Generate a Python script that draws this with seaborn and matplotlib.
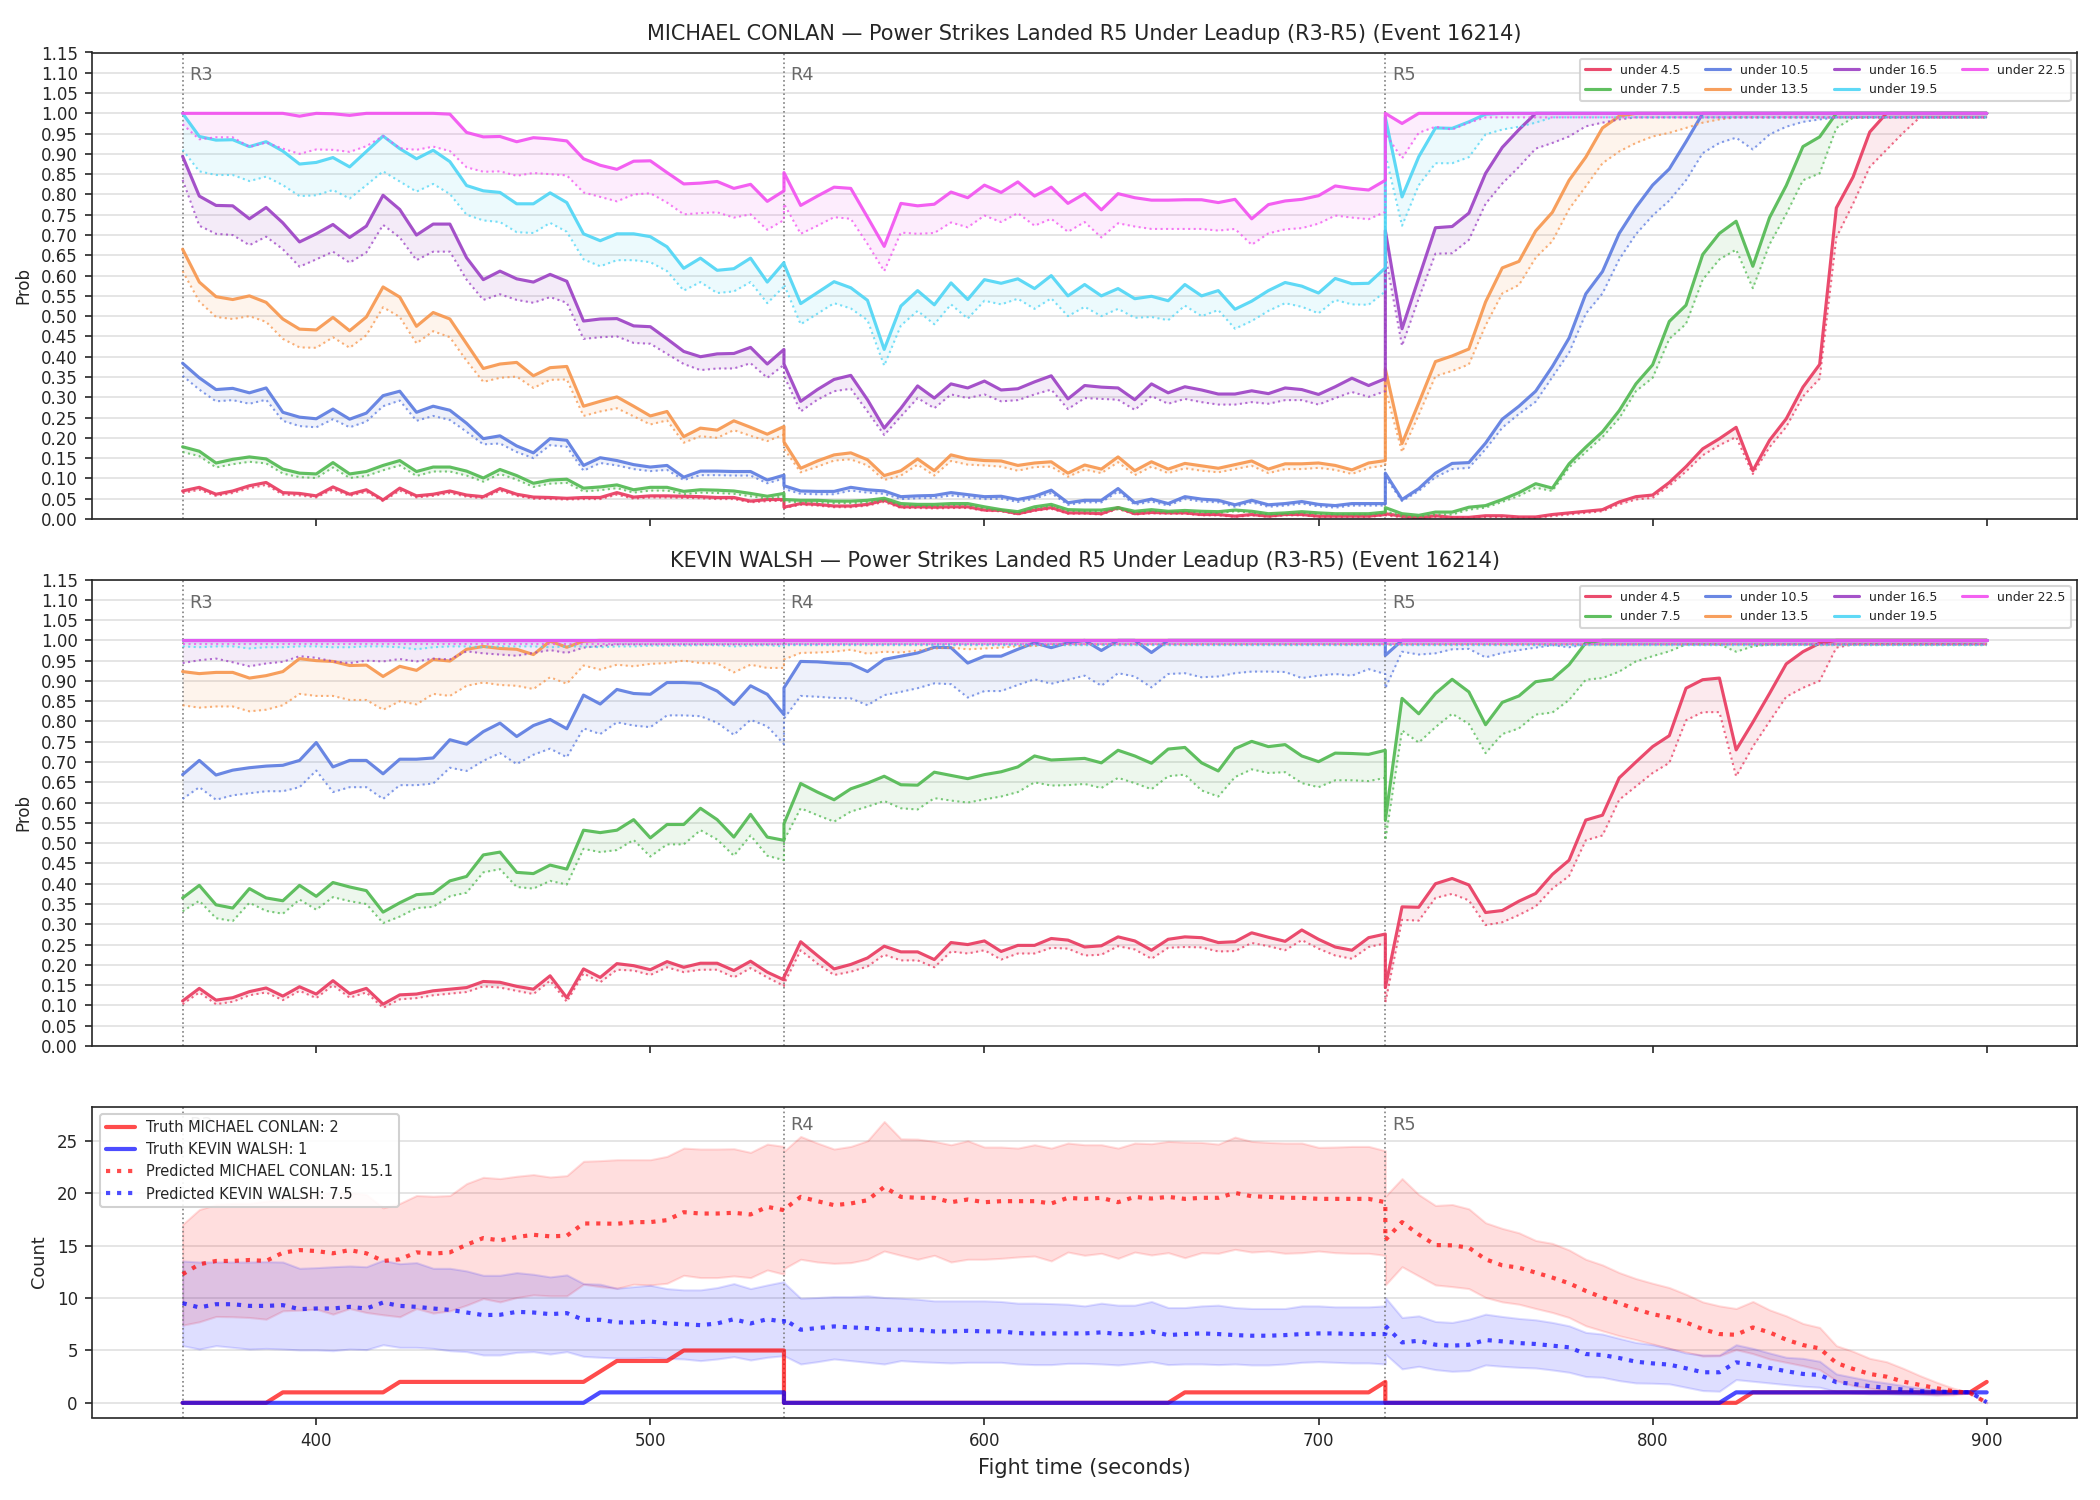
import numpy as np
import matplotlib
matplotlib.use("Agg")
import matplotlib.pyplot as plt
import seaborn as sns

# time grid, 5 s steps; each round restarts at its boundary (540 / 720 appear twice)
t_r3 = np.arange(360, 545, 5)
t_r4 = np.arange(540, 725, 5)
t_r5 = np.arange(720, 905, 5)
t = np.concatenate([t_r3, t_r4, t_r5])

lines = ['under 4.5', 'under 7.5', 'under 10.5', 'under 13.5', 'under 16.5', 'under 19.5', 'under 22.5']
colors = ['#e8375d', '#4fb84f', '#5a7ae0', '#f7954b', '#9b3fc4', '#4dd5f5', '#f24ff0']
rounds = [360, 540, 720]
round_names = ['R3', 'R4', 'R5']

# ---- MICHAEL CONLAN: probability (solid) and lower line (dotted) ----
c_u4 = [.069, .078, .061, .069, .082, .090, .065, .063, .057, .079, .061, .072, .047, .076, .057, .061, .069, .059, .055, .075, .061, .054, .053, .051, .053, .053, .065, .054, .057, .057, .056, .055, .053, .053, .044, .048, .048,
        .029, .038, .036, .032, .032, .036, .046, .030, .030, .029, .030, .030, .022, .021, .013, .022, .028, .015, .015, .013, .028, .013, .016, .015, .015, .011, .011, .007, .011, .007, .011, .011, .007, .007, .007, .007, .011,
        .013, .007, .003, .008, .004, .004, .008, .008, .005, .005, .011, .015, .019, .023, .042, .055, .059, .090, .129, .173, .198, .226, .119, .194, .247, .325, .381, .767, .843, .954, 1, 1, 1, 1, 1, 1, 1]
c_u4_lo = [.064, .072, .057, .064, .076, .084, .060, .058, .053, .073, .057, .067, .044, .070, .053, .057, .064, .055, .051, .070, .057, .050, .049, .048, .049, .049, .060, .050, .053, .053, .052, .051, .049, .049, .041, .044, .045,
           .027, .035, .033, .029, .029, .033, .042, .027, .027, .026, .027, .027, .020, .019, .011, .020, .025, .013, .013, .011, .025, .011, .014, .013, .013, .009, .009, .005, .009, .005, .009, .009, .005, .005, .005, .005, .009,
           .009, .004, .001, .005, .003, .003, .005, .005, .003, .003, .007, .011, .015, .019, .036, .048, .052, .082, .117, .157, .182, .202, .111, .177, .227, .302, .346, .694, .777, .868, .910, .952, .99, .99, .99, .99, .99]
c_u7 = [.178, .167, .138, .147, .153, .148, .123, .113, .111, .139, .111, .117, .132, .144, .117, .128, .128, .118, .101, .122, .107, .088, .096, .098, .076, .079, .084, .072, .078, .078, .068, .072, .071, .069, .063, .056, .063,
        .048, .046, .046, .044, .044, .046, .051, .038, .036, .036, .038, .038, .030, .023, .018, .030, .036, .023, .022, .022, .028, .019, .023, .019, .021, .019, .018, .022, .019, .013, .015, .018, .015, .013, .013, .013, .017,
        .028, .013, .009, .017, .017, .029, .033, .048, .065, .087, .076, .136, .177, .215, .267, .333, .380, .487, .527, .652, .704, .734, .623, .743, .822, .918, .942, 1, 1, 1, 1, 1, 1, 1, 1, 1, 1]
c_u7_lo = [.165, .155, .127, .135, .141, .137, .112, .103, .101, .127, .101, .106, .120, .132, .106, .117, .117, .107, .092, .111, .097, .079, .087, .089, .068, .071, .076, .065, .070, .070, .061, .065, .064, .062, .056, .050, .056,
           .043, .041, .041, .039, .039, .041, .046, .034, .032, .032, .034, .034, .026, .020, .015, .026, .032, .020, .019, .019, .024, .016, .020, .016, .018, .016, .015, .019, .016, .011, .012, .015, .012, .011, .011, .011, .014,
           .019, .007, .005, .011, .011, .023, .028, .042, .057, .077, .069, .127, .165, .202, .248, .315, .348, .444, .481, .590, .640, .664, .569, .677, .752, .835, .852, .964, .989, .99, .99, .99, .99, .99, .99, .99, .99]
c_u10 = [.384, .348, .319, .322, .311, .323, .263, .251, .247, .271, .246, .261, .304, .315, .263, .278, .268, .236, .198, .205, .180, .163, .198, .194, .132, .151, .144, .134, .128, .132, .103, .118, .118, .117, .117, .096, .108,
         .082, .069, .068, .068, .078, .072, .069, .055, .057, .058, .065, .060, .055, .056, .048, .056, .071, .040, .046, .046, .075, .040, .049, .038, .055, .049, .046, .035, .046, .035, .038, .043, .036, .033, .038, .038, .038,
         .113, .048, .075, .113, .137, .139, .187, .246, .278, .315, .376, .446, .555, .610, .704, .768, .823, .863, .930, 1, 1, 1, 1, 1, 1, 1, 1, 1, 1, 1, 1, 1, 1, 1, 1, 1, 1]
c_u10_lo = [.353, .319, .290, .293, .284, .294, .242, .229, .226, .246, .226, .240, .278, .292, .242, .254, .244, .215, .184, .186, .165, .150, .182, .178, .119, .138, .132, .123, .118, .121, .096, .108, .108, .107, .107, .088, .100,
            .074, .062, .061, .061, .070, .065, .062, .049, .051, .052, .058, .054, .049, .050, .042, .050, .064, .035, .041, .041, .068, .035, .043, .033, .049, .043, .041, .030, .041, .030, .033, .038, .031, .028, .033, .033, .033,
            .103, .044, .069, .103, .123, .126, .172, .225, .259, .289, .350, .410, .506, .556, .640, .702, .748, .785, .835, .902, .927, .940, .911, .948, .967, .979, .985, .99, .99, .99, .99, .99, .99, .99, .99, .99, .99]
c_u13 = [.665, .584, .548, .541, .550, .534, .493, .468, .466, .497, .464, .498, .572, .547, .475, .509, .493, .432, .371, .382, .386, .353, .373, .376, .278, .290, .301, .278, .254, .265, .203, .224, .219, .242, .226, .209, .228,
         .190, .125, .143, .158, .163, .146, .107, .119, .148, .119, .158, .148, .144, .143, .132, .138, .141, .113, .133, .123, .153, .119, .141, .123, .137, .131, .125, .134, .143, .123, .136, .136, .138, .132, .121, .138, .144,
         .370, .186, .286, .388, .402, .419, .535, .619, .635, .710, .756, .835, .892, .964, .993, 1, 1, 1, 1, 1, 1, 1, 1, 1, 1, 1, 1, 1, 1, 1, 1, 1, 1, 1, 1, 1, 1]
c_u13_lo = [.611, .536, .498, .493, .500, .486, .444, .423, .422, .448, .422, .453, .522, .498, .433, .463, .448, .390, .338, .348, .351, .323, .343, .344, .254, .265, .273, .253, .233, .243, .188, .204, .200, .219, .205, .192, .208,
            .173, .115, .129, .144, .147, .132, .096, .107, .134, .107, .143, .134, .132, .129, .119, .128, .129, .104, .122, .113, .140, .108, .129, .113, .125, .119, .115, .123, .131, .113, .123, .123, .126, .121, .111, .126, .132,
            .320, .165, .257, .352, .365, .381, .477, .556, .577, .644, .685, .764, .820, .877, .906, .927, .943, .952, .964, .977, .985, .99, .99, .99, .99, .99, .99, .99, .99, .99, .99, .99, .99, .99, .99, .99, .99]
c_u16 = [.894, .796, .773, .772, .740, .768, .730, .683, .703, .726, .694, .722, .798, .763, .700, .727, .727, .644, .590, .611, .592, .584, .603, .586, .488, .493, .494, .476, .474, .444, .413, .400, .407, .408, .423, .382, .418,
         .382, .290, .319, .344, .354, .294, .224, .273, .328, .298, .333, .323, .340, .318, .321, .338, .353, .296, .329, .325, .323, .294, .333, .311, .326, .318, .308, .308, .316, .309, .323, .319, .307, .326, .347, .329, .346,
         .711, .469, .594, .718, .721, .754, .852, .916, .960, 1, 1, 1, 1, 1, 1, 1, 1, 1, 1, 1, 1, 1, 1, 1, 1, 1, 1, 1, 1, 1, 1, 1, 1, 1, 1, 1, 1]
c_u16_lo = [.836, .723, .703, .700, .675, .696, .665, .622, .640, .659, .632, .657, .725, .694, .638, .659, .659, .590, .540, .554, .540, .533, .547, .533, .444, .448, .450, .434, .432, .407, .382, .367, .371, .371, .384, .348, .380,
            .353, .265, .294, .315, .321, .265, .207, .253, .298, .273, .307, .298, .307, .290, .293, .307, .319, .271, .298, .296, .294, .269, .303, .284, .296, .288, .282, .282, .288, .284, .293, .293, .282, .298, .313, .301, .315,
            .650, .427, .544, .654, .655, .688, .777, .827, .868, .913, .927, .943, .968, .977, .985, .99, .99, .99, .99, .99, .99, .99, .99, .99, .99, .99, .99, .99, .99, .99, .99, .99, .99, .99, .99, .99, .99]
c_u19 = [1, .943, .934, .935, .918, .930, .907, .875, .879, .891, .868, .906, .944, .913, .888, .909, .881, .822, .809, .805, .777, .777, .804, .780, .703, .686, .703, .703, .696, .671, .618, .643, .613, .617, .643, .584, .632,
         .629, .531, .558, .585, .570, .539, .418, .525, .563, .528, .582, .541, .590, .581, .592, .568, .600, .550, .578, .550, .568, .543, .549, .538, .578, .550, .563, .517, .537, .563, .583, .574, .557, .593, .580, .581, .619,
         .99, .794, .893, .964, .963, .979, .998, 1, 1, 1, 1, 1, 1, 1, 1, 1, 1, 1, 1, 1, 1, 1, 1, 1, 1, 1, 1, 1, 1, 1, 1, 1, 1, 1, 1, 1, 1]
c_u19_lo = [.910, .857, .848, .848, .833, .844, .823, .796, .798, .811, .790, .823, .857, .832, .807, .826, .801, .750, .736, .732, .707, .705, .730, .708, .640, .623, .638, .638, .633, .611, .563, .584, .557, .561, .584, .532, .573,
            .578, .480, .506, .532, .519, .490, .378, .477, .513, .480, .529, .494, .538, .529, .543, .518, .544, .500, .523, .500, .518, .496, .498, .490, .526, .500, .515, .469, .488, .513, .532, .523, .507, .540, .529, .528, .561,
            .900, .723, .823, .877, .877, .892, .948, .960, .967, .977, .99, .99, .99, .99, .99, .99, .99, .99, .99, .99, .99, .99, .99, .99, .99, .99, .99, .99, .99, .99, .99, .99, .99, .99, .99, .99, .99]
c_u22 = [1, 1, 1, 1, 1, 1, 1, .993, 1, .999, .995, 1, 1, 1, 1, 1, .998, .953, .942, .943, .930, .940, .937, .932, .888, .872, .862, .882, .883, .854, .826, .828, .832, .815, .825, .783, .809,
         .854, .773, .796, .818, .815, .744, .672, .778, .772, .776, .806, .792, .823, .805, .831, .796, .818, .778, .802, .762, .802, .792, .786, .786, .787, .787, .780, .788, .740, .775, .784, .788, .797, .821, .815, .811, .835,
         1, .975, 1, 1, 1, 1, 1, 1, 1, 1, 1, 1, 1, 1, 1, 1, 1, 1, 1, 1, 1, 1, 1, 1, 1, 1, 1, 1, 1, 1, 1, 1, 1, 1, 1, 1, 1]
c_u22_lo = [.973, .936, .941, .941, .917, .928, .913, .900, .911, .910, .905, .919, .944, .914, .910, .918, .907, .867, .856, .857, .846, .853, .850, .847, .805, .794, .783, .800, .803, .780, .751, .754, .756, .743, .751, .713, .737,
            .777, .703, .723, .744, .740, .678, .611, .706, .703, .705, .731, .719, .748, .732, .754, .723, .740, .708, .732, .694, .729, .721, .715, .715, .715, .715, .711, .715, .676, .704, .714, .717, .728, .748, .743, .739, .757,
            .950, .889, .952, .967, .960, .977, .99, .99, .99, .99, .99, .99, .99, .99, .99, .99, .99, .99, .99, .99, .99, .99, .99, .99, .99, .99, .99, .99, .99, .99, .99, .99, .99, .99, .99, .99, .99]

# ---- KEVIN WALSH (rows of ten, rounds of 37) ----
w_u4 = [.111, .142, .113, .119, .134, .143, .123, .146, .128, .161,
        .129, .142, .103, .126, .128, .136, .140, .144, .159, .157,
        .147, .140, .173, .119, .190, .169, .203, .198, .188, .208,
        .194, .204, .204, .186, .209, .182, .163,
        .170, .257, .223, .190, .201, .217, .246, .232, .232, .213,
        .255, .250, .259, .233, .248, .248, .265, .261, .244, .247,
        .269, .259, .236, .263, .269, .267, .255, .257, .279, .268,
        .258, .286, .263, .244, .236, .267, .276,
        .144, .343, .342, .400, .413, .397, .329, .334, .357, .376,
        .423, .458, .557, .569, .661, .700, .738, .765, .882, .903,
        .907, .730, .798, .869, .942, .972, .993, 1, 1, 1,
        1, 1, 1, 1, 1, 1, 1]
w_u4_lo = [.103, .132, .103, .109, .125, .132, .113, .136, .118, .150,
           .119, .132, .094, .115, .118, .125, .129, .133, .147, .144,
           .136, .128, .161, .109, .179, .157, .188, .186, .175, .194,
           .182, .188, .188, .169, .192, .169, .148,
           .153, .236, .203, .175, .183, .196, .225, .211, .211, .194,
           .233, .228, .236, .213, .228, .228, .242, .240, .223, .225,
           .246, .238, .215, .242, .244, .243, .233, .234, .254, .246,
           .236, .261, .240, .223, .215, .244, .253,
           .107, .311, .309, .365, .375, .359, .298, .305, .323, .344,
           .388, .419, .507, .519, .607, .640, .673, .698, .803, .823,
           .823, .665, .738, .800, .861, .883, .900, .982, .99, .99,
           .99, .99, .99, .99, .99, .99, .99]
w_u7 = [.365, .396, .348, .340, .388, .365, .358, .396, .369, .403,
        .392, .383, .330, .353, .373, .376, .407, .418, .471, .478,
        .428, .425, .446, .436, .532, .526, .532, .558, .513, .546,
        .546, .586, .558, .515, .571, .515, .507,
        .548, .647, .626, .607, .634, .648, .665, .644, .643, .675,
        .667, .659, .669, .676, .688, .715, .705, .707, .709, .698,
        .729, .715, .697, .732, .736, .698, .678, .733, .751, .738,
        .743, .715, .701, .722, .721, .719, .729,
        .557, .857, .819, .869, .904, .873, .792, .847, .863, .898,
        .904, .940, .994, 1, 1, 1, 1, 1, 1, 1,
        1, 1, 1, 1, 1, 1, 1, 1, 1, 1,
        1, 1, 1, 1, 1, 1, 1]
w_u7_lo = [.332, .358, .315, .308, .353, .333, .326, .361, .336, .367,
           .357, .350, .303, .319, .340, .343, .369, .378, .428, .436,
           .392, .388, .407, .398, .486, .478, .483, .508, .467, .497,
           .497, .532, .509, .469, .519, .469, .458,
           .507, .586, .569, .553, .578, .590, .604, .586, .583, .611,
           .605, .600, .608, .615, .626, .650, .642, .643, .646, .636,
           .661, .648, .633, .665, .669, .630, .615, .663, .682, .673,
           .675, .648, .638, .655, .655, .653, .661,
           .507, .778, .748, .786, .819, .794, .722, .769, .783, .817,
           .822, .853, .903, .907, .923, .948, .961, .973, .990, .990,
           .990, .972, .985, .99, .99, .99, .99, .99, .99, .99,
           .99, .99, .99, .99, .99, .99, .99]
w_u10 = [.669, .704, .668, .680, .686, .690, .692, .704, .748, .688,
         .704, .704, .671, .707, .707, .710, .755, .744, .775, .796,
         .763, .790, .805, .782, .865, .843, .879, .869, .867, .896,
         .896, .894, .875, .842, .888, .867, .817,
         .883, .948, .947, .944, .942, .923, .953, .961, .969, .983,
         .982, .944, .961, .961, .978, .994, .982, .994, 1, .975,
         1, 1, .970, 1, 1, 1, 1, 1, 1, 1,
         1, 1, 1, 1, 1, 1, 1,
         .963, 1, 1, 1, 1, 1, 1, 1, 1, 1,
         1, 1, 1, 1, 1, 1, 1, 1, 1, 1,
         1, 1, 1, 1, 1, 1, 1, 1, 1, 1,
         1, 1, 1, 1, 1, 1, 1]
w_u10_lo = [.609, .638, .607, .618, .623, .628, .628, .638, .679, .626,
            .638, .638, .609, .643, .643, .647, .686, .678, .703, .722,
            .695, .718, .733, .712, .783, .769, .798, .790, .786, .815,
            .815, .813, .797, .767, .804, .788, .744,
            .807, .863, .861, .858, .857, .840, .865, .873, .882, .894,
            .892, .859, .875, .875, .890, .904, .893, .903, .913, .888,
            .919, .911, .884, .917, .919, .909, .911, .919, .923, .923,
            .922, .907, .913, .917, .913, .929, .917,
            .882, .972, .965, .968, .978, .979, .958, .969, .976, .982,
            .988, .983, .99, .99, .99, .99, .99, .99, .99, .99,
            .99, .99, .99, .99, .99, .99, .99, .99, .99, .99,
            .99, .99, .99, .99, .99, .99, .99]
w_u13 = [.923, .918, .921, .921, .907, .913, .923, .955, .950, .948,
         .938, .939, .911, .936, .926, .953, .949, .978, .985, .980,
         .978, .965, .998, .983, .998, 1, 1, 1, 1, 1,
         1, 1, 1, 1, 1, 1, 1,
         1, 1, 1, 1, 1, 1, 1, 1, 1, 1,
         1, 1, 1, 1, 1, 1, 1, 1, 1, 1,
         1, 1, 1, 1, 1, 1, 1, 1, 1, 1,
         1, 1, 1, 1, 1, 1, 1,
         1, 1, 1, 1, 1, 1, 1, 1, 1, 1,
         1, 1, 1, 1, 1, 1, 1, 1, 1, 1,
         1, 1, 1, 1, 1, 1, 1, 1, 1, 1,
         1, 1, 1, 1, 1, 1, 1]
w_u13_lo = [.840, .834, .837, .837, .825, .829, .840, .868, .863, .863,
            .853, .853, .829, .850, .842, .868, .863, .888, .896, .890,
            .888, .880, .909, .893, .938, .928, .940, .936, .942, .944,
            .950, .944, .943, .921, .940, .932, .932,
            .953, .969, .970, .972, .977, .967, .972, .970, .975, .980,
            .982, .978, .980, .982, .986, .986, .99, .99, .99, .99,
            .99, .99, .99, .99, .99, .99, .99, .99, .99, .99,
            .99, .99, .99, .99, .99, .99, .99,
            .99, .99, .99, .99, .99, .99, .99, .99, .99, .99,
            .99, .99, .99, .99, .99, .99, .99, .99, .99, .99,
            .99, .99, .99, .99, .99, .99, .99, .99, .99, .99,
            .99, .99, .99, .99, .99, .99, .99]
w_u16 = [1, 1, 1, 1, 1, 1, 1, 1, 1, 1,
         1, 1, 1, 1, 1, 1, 1, 1, 1, 1,
         1, 1, 1, 1, 1, 1, 1, 1, 1, 1,
         1, 1, 1, 1, 1, 1, 1,
         1, 1, 1, 1, 1, 1, 1, 1, 1, 1,
         1, 1, 1, 1, 1, 1, 1, 1, 1, 1,
         1, 1, 1, 1, 1, 1, 1, 1, 1, 1,
         1, 1, 1, 1, 1, 1, 1,
         1, 1, 1, 1, 1, 1, 1, 1, 1, 1,
         1, 1, 1, 1, 1, 1, 1, 1, 1, 1,
         1, 1, 1, 1, 1, 1, 1, 1, 1, 1,
         1, 1, 1, 1, 1, 1, 1]
w_u16_lo = [.944, .951, .955, .946, .936, .943, .947, .961, .957, .948,
            .944, .950, .948, .954, .948, .955, .953, .973, .968, .965,
            .962, .969, .976, .969, .982, .986, .99, .99, .99, .99,
            .99, .99, .99, .99, .99, .99, .99,
            .99, .99, .99, .99, .99, .99, .99, .99, .99, .99,
            .99, .99, .99, .99, .99, .99, .99, .99, .99, .99,
            .99, .99, .99, .99, .99, .99, .99, .99, .99, .99,
            .99, .99, .99, .99, .99, .99, .99,
            .99, .99, .99, .99, .99, .99, .99, .99, .99, .99,
            .99, .99, .99, .99, .99, .99, .99, .99, .99, .99,
            .99, .99, .99, .99, .99, .99, .99, .99, .99, .99,
            .99, .99, .99, .99, .99, .99, .99]
w_u19 = w_u16
w_u19_lo = [.985, .983, .985, .985, .980, .983, .983, .985, .985, .983,
            .983, .985, .985, .983, .978, .983, .985, .985, .983, .985,
            .985, .985, .983, .985, .985, .983, .985, .985, .987, .987,
            .987, .988, .988, .985, .987, .988, .985,
            .988, .988, .988, .988, .988, .988, .988, .988, .988, .988,
            .988, .988, .988, .988, .988, .988, .988, .988, .988, .988,
            .988, .988, .988, .988, .988, .988, .988, .988, .988, .988,
            .988, .988, .988, .988, .988, .988, .988,
            .988, .988, .988, .988, .988, .988, .988, .988, .988, .988,
            .988, .988, .988, .988, .988, .988, .988, .988, .988, .988,
            .988, .988, .988, .988, .988, .988, .988, .988, .988, .988,
            .988, .988, .988, .988, .988, .988, .988]
w_u22 = w_u16
w_u22_lo = [.99, .99, .99, .99, .99, .99, .99, .99, .99, .99,
            .99, .99, .99, .99, .99, .99, .99, .99, .99, .99,
            .99, .99, .99, .99, .99, .99, .99, .99, .99, .99,
            .99, .99, .99, .99, .99, .99, .99,
            .99, .99, .99, .99, .99, .99, .99, .99, .99, .99,
            .99, .99, .99, .99, .99, .99, .99, .99, .99, .99,
            .99, .99, .99, .99, .99, .99, .99, .99, .99, .99,
            .99, .99, .99, .99, .99, .99, .99,
            .99, .99, .99, .99, .99, .99, .99, .99, .99, .99,
            .99, .99, .99, .99, .99, .99, .99, .99, .99, .99,
            .99, .99, .99, .99, .99, .99, .99, .99, .99, .99,
            .99, .99, .99, .99, .99, .99, .99]

# ---- counts panel ----
truth_conlan = [0, 0, 0, 0, 0, 0, 1, 1, 1, 1,
                1, 1, 1, 2, 2, 2, 2, 2, 2, 2,
                2, 2, 2, 2, 2, 3, 4, 4, 4, 4,
                5, 5, 5, 5, 5, 5, 5,
                0, 0, 0, 0, 0, 0, 0, 0, 0, 0,
                0, 0, 0, 0, 0, 0, 0, 0, 0, 0,
                0, 0, 0, 0, 1, 1, 1, 1, 1, 1,
                1, 1, 1, 1, 1, 1, 2,
                0, 0, 0, 0, 0, 0, 0, 0, 0, 0,
                0, 0, 0, 0, 0, 0, 0, 0, 0, 0,
                0, 0, 1, 1, 1, 1, 1, 1, 1, 1,
                1, 1, 1, 1, 1, 1, 2]
truth_walsh = [0, 0, 0, 0, 0, 0, 0, 0, 0, 0,
               0, 0, 0, 0, 0, 0, 0, 0, 0, 0,
               0, 0, 0, 0, 0, 1, 1, 1, 1, 1,
               1, 1, 1, 1, 1, 1, 1,
               0, 0, 0, 0, 0, 0, 0, 0, 0, 0,
               0, 0, 0, 0, 0, 0, 0, 0, 0, 0,
               0, 0, 0, 0, 0, 0, 0, 0, 0, 0,
               0, 0, 0, 0, 0, 0, 0,
               0, 0, 0, 0, 0, 0, 0, 0, 0, 0,
               0, 0, 0, 0, 0, 0, 0, 0, 0, 0,
               0, 1, 1, 1, 1, 1, 1, 1, 1, 1,
               1, 1, 1, 1, 1, 1, 1]
pred_conlan = [12.28, 13.23, 13.55, 13.55, 13.64, 13.55, 14.34, 14.59, 14.5, 14.28, 14.59, 14.28, 13.55, 13.71, 14.37, 14.25, 14.37, 15.1, 15.74, 15.51, 15.83, 16.05, 15.9, 15.96, 17.13, 17.13, 17.1, 17.26, 17.26, 17.45, 18.21, 18.08, 18.08, 18.15, 17.99, 18.72, 18.4,
               18.46, 19.67, 19.26, 18.88, 19.04, 19.35, 20.62, 19.67, 19.58, 19.58, 19.16, 19.42, 19.16, 19.26, 19.26, 19.26, 19.04, 19.58, 19.48, 19.58, 19.16, 19.67, 19.51, 19.67, 19.48, 19.58, 19.58, 20.05, 19.73, 19.67, 19.58, 19.58, 19.48, 19.48, 19.48, 19.48, 19.16,
               15.55, 17.26, 16.08, 15.07, 15.04, 14.82, 13.71, 13.13, 12.91, 12.44, 11.96, 11.42, 10.69, 10.06, 9.52, 8.95, 8.47, 8.15, 7.68, 7.04, 6.57, 6.5, 7.2, 6.73, 6.03, 5.52, 5.2, 3.81, 3.24, 2.76, 2.5, 2.03, 1.71, 1.4, 1.11, 0.95, 0.0]
conlan_hi = [17.04, 18.46, 18.94, 19.04, 19.04, 19.26, 19.42, 19.67, 19.9, 20.05, 20.05, 19.9, 18.62, 19.04, 19.8, 19.73, 19.8, 20.94, 21.54, 21.42, 21.64, 21.8, 21.57, 21.7, 23.07, 23.13, 23.22, 23.22, 23.22, 23.54, 24.33, 24.24, 24.24, 24.27, 23.92, 24.71, 24.49,
             24.02, 25.44, 24.81, 24.24, 24.49, 25.03, 26.87, 25.22, 25.19, 24.97, 24.65, 25.03, 24.43, 24.43, 24.33, 24.65, 24.33, 24.81, 24.65, 24.65, 24.33, 24.81, 24.75, 24.97, 24.9, 24.87, 24.71, 25.38, 24.97, 24.87, 24.81, 24.81, 24.4, 24.43, 24.49, 24.49, 24.08,
             19.73, 21.42, 19.89, 18.85, 18.94, 18.53, 17.2, 16.66, 16.24, 15.51, 15.23, 14.6, 13.71, 13.17, 12.44, 11.87, 11.42, 11.01, 10.37, 9.64, 9.26, 9.01, 9.68, 8.88, 8.31, 7.58, 7.2, 5.46, 4.92, 4.25, 3.93, 3.3, 2.6, 1.97, 1.4, 0.95, 0.0]
conlan_lo = [7.42, 7.74, 8.25, 8.22, 8.15, 7.99, 8.79, 8.85, 8.95, 8.47, 9.01, 8.63, 8.41, 8.22, 9.01, 8.57, 8.79, 9.33, 9.96, 9.64, 10.06, 10.31, 10.22, 10.22, 11.33, 11.1, 10.94, 11.33, 11.26, 11.42, 12.18, 11.96, 11.96, 12.12, 11.96, 12.69, 12.28,
             12.82, 13.71, 13.45, 13.32, 13.39, 13.71, 14.5, 14.09, 13.71, 14.09, 13.45, 13.71, 13.71, 13.8, 13.93, 14.02, 13.55, 14.4, 14.09, 14.28, 13.8, 14.4, 14.12, 14.34, 13.86, 14.34, 14.28, 14.66, 14.4, 14.5, 14.28, 14.34, 14.5, 14.34, 14.28, 14.28, 14.09,
             11.26, 13.0, 12.12, 11.26, 11.1, 10.91, 10.06, 9.64, 9.42, 9.01, 8.63, 8.15, 7.36, 6.88, 6.41, 6.03, 5.62, 5.2, 4.85, 4.47, 4.5, 5.08, 4.7, 4.19, 3.87, 3.55, 3.17, 2.12, 1.65, 1.4, 1.17, 1.0, 0.86, 0.76, 0.76, 0.95, 0.0]
pred_walsh = [9.52, 9.11, 9.42, 9.42, 9.26, 9.26, 9.33, 8.95, 9.01, 9.01, 9.17, 9.01, 9.58, 9.26, 9.17, 9.01, 8.88, 8.63, 8.38, 8.41, 8.69, 8.63, 8.47, 8.57, 7.93, 7.93, 7.68, 7.68, 7.77, 7.58, 7.52, 7.42, 7.58, 7.99, 7.58, 7.99, 7.74,
              7.99, 6.98, 7.14, 7.3, 7.2, 7.14, 6.98, 6.98, 6.98, 6.82, 6.82, 6.88, 6.82, 6.82, 6.66, 6.63, 6.63, 6.63, 6.63, 6.73, 6.57, 6.57, 6.82, 6.47, 6.57, 6.63, 6.57, 6.47, 6.41, 6.41, 6.47, 6.57, 6.63, 6.63, 6.57, 6.57, 6.57,
              7.36, 5.77, 5.93, 5.55, 5.46, 5.55, 6.0, 5.87, 5.71, 5.62, 5.46, 5.3, 4.66, 4.57, 4.28, 3.93, 3.77, 3.65, 3.3, 2.92, 2.92, 3.87, 3.65, 3.33, 3.02, 2.76, 2.66, 1.97, 1.81, 1.59, 1.43, 1.27, 1.11, 1.08, 1.02, 1.02, 0.06]
walsh_hi = [13.55, 13.45, 13.45, 13.45, 13.45, 13.48, 13.45, 12.85, 12.91, 13.0, 13.07, 13.0, 13.61, 13.29, 13.39, 12.85, 12.85, 12.6, 12.18, 12.18, 12.44, 12.28, 12.03, 12.22, 11.39, 11.33, 10.94, 11.1, 11.23, 10.91, 10.79, 10.79, 11.01, 11.39, 10.91, 11.26, 11.58,
            11.48, 9.99, 10.06, 10.15, 10.15, 10.22, 10.06, 9.99, 9.9, 9.74, 9.74, 9.74, 9.74, 9.68, 9.52, 9.52, 9.48, 9.42, 9.26, 9.52, 9.33, 9.33, 9.68, 9.1, 9.1, 9.26, 9.33, 9.1, 9.01, 9.01, 9.01, 9.26, 9.26, 9.17, 9.17, 9.17, 9.26,
            10.06, 8.15, 8.31, 7.77, 7.68, 7.99, 8.47, 8.25, 8.06, 7.93, 7.68, 7.36, 6.73, 6.57, 6.16, 5.77, 5.55, 5.2, 4.76, 4.57, 4.57, 5.55, 5.2, 4.76, 4.35, 4.25, 3.97, 2.76, 2.44, 2.13, 1.9, 1.65, 1.4, 1.27, 1.14, 1.02, 0.06]
walsh_lo = [5.46, 5.14, 5.46, 5.3, 5.14, 5.2, 5.14, 5.05, 5.05, 4.98, 5.14, 5.08, 5.55, 5.3, 5.3, 5.2, 4.98, 4.89, 4.57, 4.57, 4.82, 4.89, 4.66, 4.89, 4.44, 4.35, 4.28, 4.28, 4.35, 4.25, 4.19, 4.03, 4.19, 4.41, 4.09, 4.35, 4.5,
            4.5, 3.71, 3.93, 4.19, 4.03, 3.87, 3.71, 4.03, 3.93, 3.87, 3.81, 3.87, 3.87, 3.87, 3.71, 3.65, 3.65, 3.77, 3.77, 3.71, 3.62, 3.77, 3.93, 3.65, 3.71, 3.71, 3.65, 3.71, 3.62, 3.62, 3.71, 3.87, 3.93, 3.87, 3.81, 3.81, 3.71,
            4.66, 3.24, 3.49, 3.17, 3.01, 3.08, 3.62, 3.49, 3.39, 3.33, 3.14, 2.92, 2.51, 2.44, 2.12, 1.9, 1.87, 1.81, 1.49, 1.17, 1.11, 2.22, 2.06, 1.9, 1.74, 1.59, 1.49, 1.08, 0.95, 0.86, 0.86, 0.79, 0.79, 0.76, 0.86, 1.02, 0.06]

conlan_solid = [c_u4, c_u7, c_u10, c_u13, c_u16, c_u19, c_u22]
conlan_lower = [c_u4_lo, c_u7_lo, c_u10_lo, c_u13_lo, c_u16_lo, c_u19_lo, c_u22_lo]
walsh_solid = [w_u4, w_u7, w_u10, w_u13, w_u16, w_u19, w_u22]
walsh_lower = [w_u4_lo, w_u7_lo, w_u10_lo, w_u13_lo, w_u16_lo, w_u19_lo, w_u22_lo]

sns.set_style("ticks")
plt.rcParams['font.family'] = ['DejaVu Sans']

fig, axes = plt.subplots(3, 1, figsize=(14, 10), dpi=150, sharex=True,
                         gridspec_kw={'height_ratios': [1.5, 1.5, 1]})
plt.subplots_adjust(left=0.044, right=0.989, top=0.965, bottom=0.055, hspace=0.146)


def mark_rounds(ax):
    for x, lab in zip(rounds, round_names):
        ax.axvline(x, color='gray', linestyle=':', linewidth=0.8, zorder=1)
        ax.text(x + 2, 0.97, lab, transform=ax.get_xaxis_transform(), color='dimgray',
                fontsize=8.5, va='top', ha='left', zorder=1)


def prob_panel(ax, solid, lower, fighter):
    for lab, col, y, lo in zip(lines, colors, solid, lower):
        ax.fill_between(t, lo, y, color=col, alpha=0.1, linewidth=0)
        sns.lineplot(x=t, y=lo, ax=ax, color=col, linewidth=1, linestyle=':', alpha=0.75,
                     estimator=None, sort=False)
        sns.lineplot(x=t, y=y, ax=ax, color=col, linewidth=1.5, alpha=0.9,
                     estimator=None, sort=False, label=lab)
    mark_rounds(ax)
    ax.set_ylim(0, 1.15)
    ticks = np.round(np.arange(0, 1.151, 0.05), 2)
    ax.set_yticks(ticks)
    ax.set_yticklabels([f'{v:.2f}' for v in ticks])
    ax.yaxis.grid(True, color='#e0e0e0', linewidth=0.8)
    ax.set_axisbelow(True)
    ax.set_ylabel('Prob', fontsize=8)
    ax.tick_params(labelsize=8)
    ax.set_title(f'{fighter} \u2014 Power Strikes Landed R5 Under Leadup (R3-R5) (Event 16214)', fontsize=10)
    ax.legend(loc='upper right', ncol=4, fontsize=6)


prob_panel(axes[0], conlan_solid, conlan_lower, 'MICHAEL CONLAN')
prob_panel(axes[1], walsh_solid, walsh_lower, 'KEVIN WALSH')

ax = axes[2]
ax.fill_between(t, conlan_lo, conlan_hi, color='red', alpha=0.13)
ax.fill_between(t, walsh_lo, walsh_hi, color='blue', alpha=0.13)
sns.lineplot(x=t, y=truth_conlan, ax=ax, color='red', alpha=0.7, linewidth=2,
             estimator=None, sort=False, label='Truth MICHAEL CONLAN: 2')
sns.lineplot(x=t, y=truth_walsh, ax=ax, color='blue', alpha=0.7, linewidth=2,
             estimator=None, sort=False, label='Truth KEVIN WALSH: 1')
sns.lineplot(x=t, y=pred_conlan, ax=ax, color='red', alpha=0.7, linewidth=2, linestyle=':',
             estimator=None, sort=False, label='Predicted MICHAEL CONLAN: 15.1')
sns.lineplot(x=t, y=pred_walsh, ax=ax, color='blue', alpha=0.7, linewidth=2, linestyle=':',
             estimator=None, sort=False, label='Predicted KEVIN WALSH: 7.5')
mark_rounds(ax)
ax.set_ylim(-1.4, 28.3)
ax.set_yticks([0, 5, 10, 15, 20, 25])
ax.yaxis.grid(True, color='#e0e0e0', linewidth=0.8)
ax.set_axisbelow(True)
ax.set_ylabel('Count', fontsize=8.5)
ax.tick_params(labelsize=8)
leg = ax.legend(loc='upper left', fontsize=7, framealpha=0.9)
leg.set_zorder(10)

ax.set_xlim(333, 927)
ax.set_xticks([400, 500, 600, 700, 800, 900])
ax.set_xlabel('Fight time (seconds)', fontsize=10)

fig.savefig('out.png', dpi=150)
